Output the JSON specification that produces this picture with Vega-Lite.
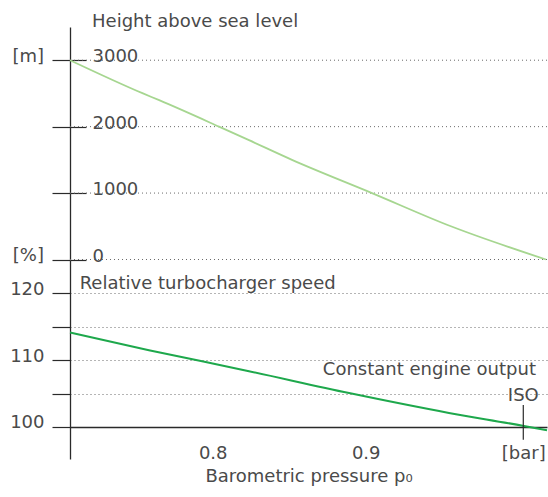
{
  "$schema": "https://vega.github.io/schema/vega-lite/v6.json",
  "padding": {"left": 9, "top": 13, "right": 0, "bottom": 0},
  "bounds": "flush",
  "spacing": 0,
  "background": "white",
  "config": {
    "view": {"stroke": null},
    "font": "DejaVu Sans",
    "text": {"font": "DejaVu Sans", "fontSize": 18, "fontWeight": "normal", "color": "#4a4a4a"},
    "axis": {
      "labelFont": "DejaVu Sans", "labelFontSize": 18, "labelFontWeight": "normal", "labelColor": "#4a4a4a",
      "titleFont": "DejaVu Sans", "titleFontSize": 18, "titleFontWeight": "normal", "titleColor": "#4a4a4a",
      "tickColor": "#2a2a2a", "domainColor": "#2a2a2a", "gridColor": "#6a6a6a"
    }
  },
  "datasets": {
    "height": [
      {"pressure": 0.7067, "value": 3000},
      {"pressure": 0.7544, "value": 2500},
      {"pressure": 0.7650, "value": 2398},
      {"pressure": 0.8041, "value": 2000},
      {"pressure": 0.8237, "value": 1796},
      {"pressure": 0.8518, "value": 1500},
      {"pressure": 0.9041, "value": 1000},
      {"pressure": 0.9557, "value": 500},
      {"pressure": 1.0178, "value": 0}
    ],
    "speed": [
      {"pressure": 0.7067, "value": 114.14},
      {"pressure": 0.7583, "value": 111.5},
      {"pressure": 0.8237, "value": 108.35},
      {"pressure": 0.8891, "value": 105.07},
      {"pressure": 0.9544, "value": 102.1},
      {"pressure": 1.0034, "value": 100.15},
      {"pressure": 1.0185, "value": 99.5}
    ]
  },
  "vconcat": [
    {
      "width": 477,
      "height": 232.5,
      "layer": [
        {
          "data": {"values": [{"value": 0}, {"value": 1000}, {"value": 2000}, {"value": 3000}]},
          "mark": {"type": "rule", "color": "#6a6a6a", "strokeDash": [1, 3], "strokeWidth": 1},
          "encoding": {
            "y": {"field": "value", "type": "quantitative"}
          }
        },
        {
          "data": {"name": "height"},
          "mark": {"type": "line", "color": "#a6d690", "strokeWidth": 1.8, "interpolate": "monotone"},
          "encoding": {
            "x": {"field": "pressure", "type": "quantitative", "scale": {"domain": [0.7067, 1.0185], "nice": false, "zero": false}, "axis": null},
            "y": {
              "field": "value", "type": "quantitative",
              "scale": {"domain": [0, 3500], "nice": false, "zero": false},
              "axis": {
                "title": null, "orient": "left", "domain": true, "domainWidth": 1.3,
                "values": [0, 500, 1000, 1500, 2000, 2500, 3000],
                "format": "d",
                "tickSize": 18, "tickWidth": 1.2,
                "labelExpr": "datum.value % 1000 === 0 ? datum.label : ''",
                "labelAlign": "left", "labelBaseline": "alphabetic", "labelOffset": 1.7, "labelPadding": -40,
                "labelFlush": false, "labelOverlap": false,
                "grid": true,
                "gridDash": {"condition": {"test": "datum.value % 1000 === 0", "value": [16, 2000]}, "value": [1, 3]},
                "gridColor": {"condition": {"test": "datum.value % 1000 === 0", "value": "#2a2a2a"}, "value": "#6a6a6a"},
                "gridWidth": {"condition": {"test": "datum.value % 1000 === 0", "value": 1.2}, "value": 1}
              }
            }
          }
        },
        {
          "data": {"values": [{"label": "Height above sea level", "pressure": 0.7211, "value": 3500}]},
          "mark": {"type": "text", "align": "left", "baseline": "alphabetic"},
          "encoding": {
            "x": {"field": "pressure", "type": "quantitative"},
            "y": {"field": "value", "type": "quantitative"},
            "text": {"field": "label"}
          }
        },
        {
          "data": {"values": [{"label": "[m]", "pressure": 0.6897, "value": 2975}, {"label": "[%]", "pressure": 0.6897, "value": -25}]},
          "mark": {"type": "text", "align": "right", "baseline": "alphabetic"},
          "encoding": {
            "x": {"field": "pressure", "type": "quantitative"},
            "y": {"field": "value", "type": "quantitative"},
            "text": {"field": "label"}
          }
        }
      ]
    },
    {
      "width": 477,
      "height": 199,
      "layer": [
        {
          "data": {"name": "speed"},
          "mark": {"type": "line", "color": "#1ea84c", "strokeWidth": 2, "interpolate": "monotone"},
          "encoding": {
            "x": {
              "field": "pressure", "type": "quantitative",
              "scale": {"domain": [0.7067, 1.0185], "nice": false, "zero": false},
              "axis": {
                "orient": "bottom", "offset": -32.05, "values": [0.8, 0.9, 1.003],
                "format": ".1f",
                "labelExpr": "datum.value > 0.95 ? '[bar]' : datum.label",
                "ticks": false, "domain": false, "grid": false,
                "labelPadding": 18, "labelFlush": false, "labelOverlap": false,
                "title": "Barometric pressure p₀", "titlePadding": 5
              }
            },
            "y": {
              "field": "value", "type": "quantitative",
              "scale": {"domain": [95.2, 125], "nice": false, "zero": false},
              "axis": {
                "title": null, "orient": "left",
                "values": [100, 105, 110, 115, 120],
                "format": "d",
                "tickSize": 18, "tickWidth": 1.2, "domainWidth": 1.3,
                "labelExpr": "datum.value % 10 === 0 ? datum.label : ''",
                "labelBaseline": "alphabetic", "labelOffset": 1, "labelPadding": 8,
                "labelFlush": false, "labelOverlap": false,
                "grid": true,
                "gridDash": {"condition": {"test": "datum.value === 100", "value": [1, 0]}, "value": [1, 3]},
                "gridColor": {"condition": {"test": "datum.value === 100", "value": "#2a2a2a"}, "value": "#6a6a6a"},
                "gridWidth": {"condition": {"test": "datum.value === 100", "value": 1.3}, "value": 1}
              }
            }
          }
        },
        {
          "data": {"values": [{"pressure": 1.003, "value": 98.1, "value2": 103.3}]},
          "mark": {"type": "rule", "color": "#2a2a2a", "strokeWidth": 1.2},
          "encoding": {
            "x": {"field": "pressure", "type": "quantitative"},
            "y": {"field": "value", "type": "quantitative"},
            "y2": {"field": "value2"}
          }
        },
        {
          "data": {"values": [{"label": "Relative turbocharger speed", "pressure": 0.713, "value": 120.66}]},
          "mark": {"type": "text", "align": "left", "baseline": "alphabetic"},
          "encoding": {
            "x": {"field": "pressure", "type": "quantitative"},
            "y": {"field": "value", "type": "quantitative"},
            "text": {"field": "label"}
          }
        },
        {
          "data": {"values": [{"label": "Constant engine output", "pressure": 1.0113, "value": 107.76}]},
          "mark": {"type": "text", "align": "right", "baseline": "alphabetic"},
          "encoding": {
            "x": {"field": "pressure", "type": "quantitative"},
            "y": {"field": "value", "type": "quantitative"},
            "text": {"field": "label"}
          }
        },
        {
          "data": {"values": [{"label": "ISO", "pressure": 1.003, "value": 103.9}]},
          "mark": {"type": "text", "align": "center", "baseline": "alphabetic"},
          "encoding": {
            "x": {"field": "pressure", "type": "quantitative"},
            "y": {"field": "value", "type": "quantitative"},
            "text": {"field": "label"}
          }
        }
      ]
    }
  ]
}
